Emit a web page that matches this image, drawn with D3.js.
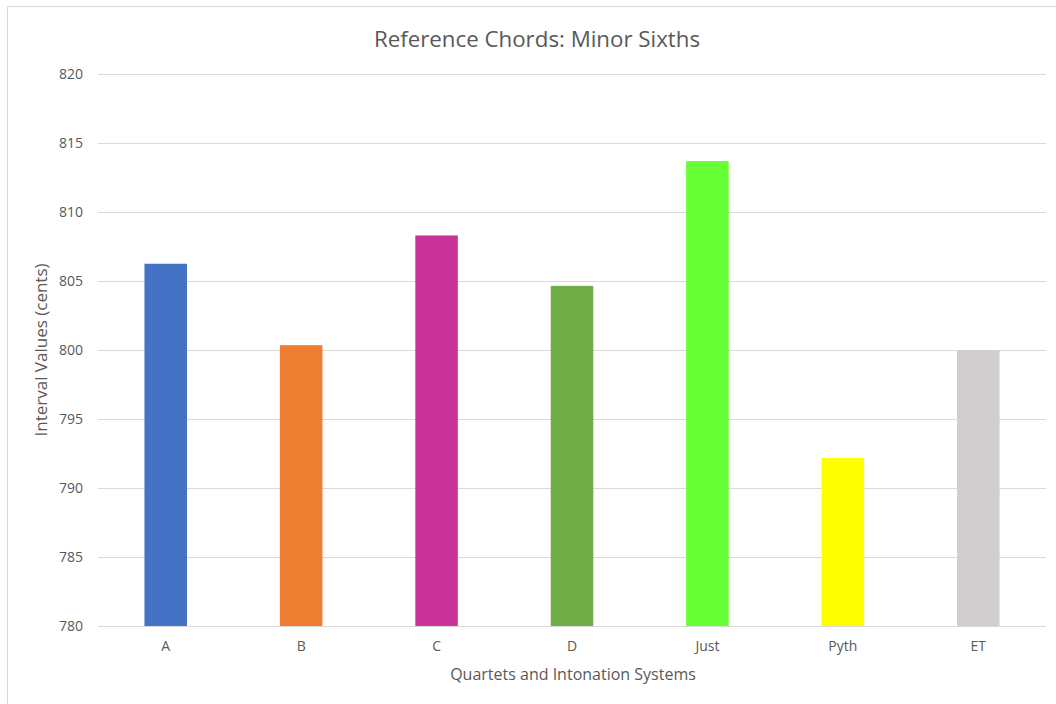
<!DOCTYPE html>
<html>
<head>
<meta charset="utf-8">
<script src="https://cdn.jsdelivr.net/npm/d3@7"></script>
<style>
  html, body { margin: 0; padding: 0; background: #fff; }
  svg { display: block; font-family: "Open Sans", "Noto Sans", sans-serif; }
  svg text { font-family: "Open Sans", "Noto Sans", sans-serif; }
</style>
</head>
<body>
<svg id="chart" width="1056" height="704"></svg>
<script>
// Minor sixth intervals (cents) per quartet and tuning system
const categories = ["A", "B", "C", "D", "Just", "Pyth", "ET"];
const values = [806.25, 800.35, 808.3, 804.65, 813.69, 792.18, 800.0];
const barColors = ["#4472C4", "#ED7D31", "#CC3399", "#70AD47", "#66FF33", "#FFFF00", "#D0CECE"];
const yTicks = [780, 785, 790, 795, 800, 805, 810, 815, 820];

const svg = d3.select("#chart");
const W = 1056, H = 704;
const margin = { left: 98, right: 10, top: 74, bottom: 78 };
const font = '"Open Sans", "Noto Sans", sans-serif';

// chart frame
svg.append("rect")
  .attr("x", 7.5).attr("y", 6.5)
  .attr("width", W + 10).attr("height", H + 10)
  .attr("fill", "#fff").attr("stroke", "#d9d9d9").attr("stroke-width", 1);

const x = d3.scaleBand()
  .domain(categories)
  .range([margin.left, W - margin.right])
  .paddingInner(0.686)
  .paddingOuter(0.343);

const y = d3.scaleLinear()
  .domain([780, 820])
  .range([H - margin.bottom, margin.top]);

// horizontal gridlines
svg.append("g")
  .selectAll("line")
  .data(yTicks)
  .join("line")
  .attr("x1", margin.left).attr("x2", W - margin.right)
  .attr("y1", d => Math.round(y(d)) + 0.5).attr("y2", d => Math.round(y(d)) + 0.5)
  .attr("stroke", "#d9d9d9").attr("stroke-width", 1);

// bars rise from the axis floor
svg.append("g")
  .selectAll("rect")
  .data(categories)
  .join("rect")
  .attr("x", d => x(d))
  .attr("width", x.bandwidth())
  .attr("y", (d, i) => y(values[i]))
  .attr("height", (d, i) => y(780) - y(values[i]))
  .attr("fill", (d, i) => barColors[i]);

// y axis tick labels
const yAxis = svg.append("g")
  .attr("transform", `translate(${margin.left - 15},0)`)
  .call(d3.axisLeft(y).tickValues(yTicks).tickSize(0).tickPadding(0).tickFormat(d3.format("d")))
  .attr("font-family", font);
yAxis.select(".domain").remove();
yAxis.selectAll("text")
  .attr("fill", "#595959").style("font-size", "14px");

// x axis
const xAxis = svg.append("g")
  .attr("transform", `translate(0,${y(780)})`)
  .call(d3.axisBottom(x).tickSize(0).tickPadding(15))
  .attr("font-family", font);
xAxis.select(".domain").attr("stroke", "#d9d9d9").attr("d", `M${margin.left},0.5H${W - margin.right}`);
xAxis.selectAll("text")
  .attr("fill", "#595959").style("font-size", "14px");

// titles
svg.append("text")
  .attr("x", 537).attr("y", 47)
  .attr("text-anchor", "middle")
  .attr("fill", "#595959")
  .style("font-size", "22.3px")
  .text("Reference Chords: Minor Sixths");

svg.append("text")
  .attr("x", 573).attr("y", 680)
  .attr("text-anchor", "middle")
  .attr("fill", "#595959")
  .style("font-size", "16px")
  .text("Quartets and Intonation Systems");

svg.append("text")
  .attr("transform", `translate(47,350) rotate(-90)`)
  .attr("text-anchor", "middle")
  .attr("fill", "#595959")
  .style("font-size", "17px")
  .text("Interval Values (cents)");
</script>
</body>
</html>
